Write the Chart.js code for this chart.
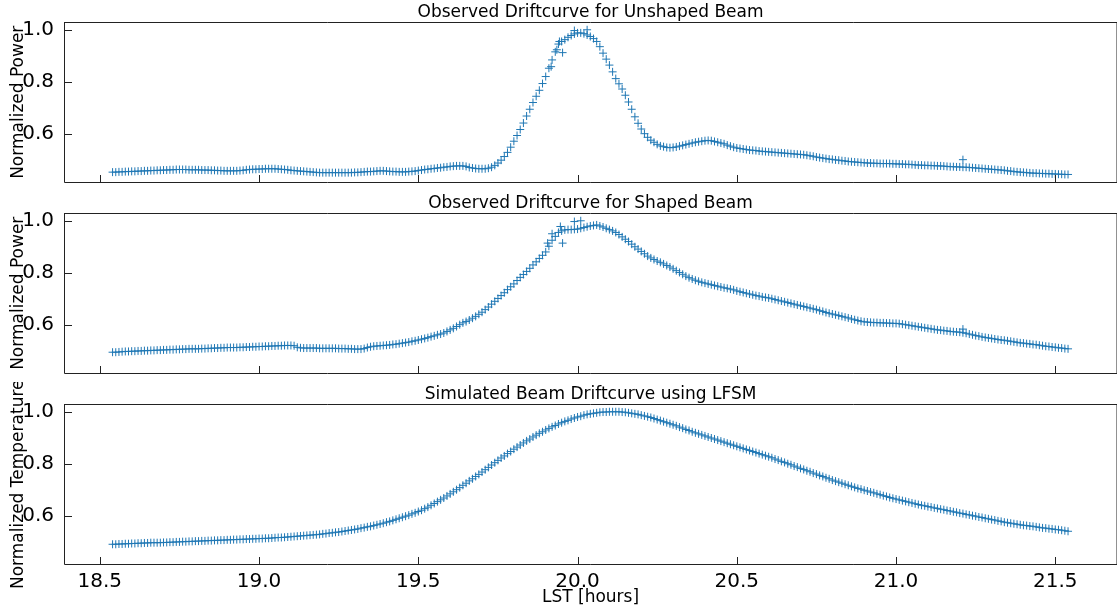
<!DOCTYPE html>
<html>
<head>
<meta charset="utf-8">
<script src="https://cdn.jsdelivr.net/npm/chart.js@4"></script>
<style>
  body { margin: 0; background: #fff; overflow: hidden; }
  #fig { position: relative; width: 1117px; height: 611px; overflow: hidden; background: #fff; }
  #fig canvas { position: absolute; left: 0; }
</style>
</head>
<body>
<div id="fig">
  <canvas id="unshaped" width="1122" height="191" style="top:0px"></canvas>
  <canvas id="shaped" width="1122" height="191" style="top:191px"></canvas>
  <canvas id="simulated" width="1122" height="229" style="top:382px"></canvas>
</div>
<script>
// LST [hours] shared by all three panels
const lst = [
  18.54, 18.55, 18.56, 18.57, 18.58, 18.59, 18.60, 18.61, 18.62, 18.63,
  18.64, 18.65, 18.66, 18.67, 18.68, 18.69, 18.70, 18.71, 18.72, 18.73,
  18.74, 18.75, 18.76, 18.77, 18.78, 18.79, 18.80, 18.81, 18.82, 18.83,
  18.84, 18.85, 18.86, 18.87, 18.88, 18.89, 18.90, 18.91, 18.92, 18.93,
  18.94, 18.95, 18.96, 18.97, 18.98, 18.99, 19.00, 19.01, 19.02, 19.03,
  19.04, 19.05, 19.06, 19.07, 19.08, 19.09, 19.10, 19.11, 19.12, 19.13,
  19.14, 19.15, 19.16, 19.17, 19.18, 19.19, 19.20, 19.21, 19.22, 19.23,
  19.24, 19.25, 19.26, 19.27, 19.28, 19.29, 19.30, 19.31, 19.32, 19.33,
  19.34, 19.35, 19.36, 19.37, 19.38, 19.39, 19.40, 19.41, 19.42, 19.43,
  19.44, 19.45, 19.46, 19.47, 19.48, 19.49, 19.50, 19.51, 19.52, 19.53,
  19.54, 19.55, 19.56, 19.57, 19.58, 19.59, 19.60, 19.61, 19.62, 19.63,
  19.64, 19.65, 19.66, 19.67, 19.68, 19.69, 19.70, 19.71, 19.72, 19.73,
  19.74, 19.75, 19.76, 19.77, 19.78, 19.79, 19.80, 19.81, 19.82, 19.83,
  19.84, 19.85, 19.86, 19.87, 19.88, 19.89, 19.90, 19.91, 19.92, 19.93,
  19.94, 19.95, 19.96, 19.97, 19.98, 19.99, 20.00, 20.01, 20.02, 20.03,
  20.04, 20.05, 20.06, 20.07, 20.08, 20.09, 20.10, 20.11, 20.12, 20.13,
  20.14, 20.15, 20.16, 20.17, 20.18, 20.19, 20.20, 20.21, 20.22, 20.23,
  20.24, 20.25, 20.26, 20.27, 20.28, 20.29, 20.30, 20.31, 20.32, 20.33,
  20.34, 20.35, 20.36, 20.37, 20.38, 20.39, 20.40, 20.41, 20.42, 20.43,
  20.44, 20.45, 20.46, 20.47, 20.48, 20.49, 20.50, 20.51, 20.52, 20.53,
  20.54, 20.55, 20.56, 20.57, 20.58, 20.59, 20.60, 20.61, 20.62, 20.63,
  20.64, 20.65, 20.66, 20.67, 20.68, 20.69, 20.70, 20.71, 20.72, 20.73,
  20.74, 20.75, 20.76, 20.77, 20.78, 20.79, 20.80, 20.81, 20.82, 20.83,
  20.84, 20.85, 20.86, 20.87, 20.88, 20.89, 20.90, 20.91, 20.92, 20.93,
  20.94, 20.95, 20.96, 20.97, 20.98, 20.99, 21.00, 21.01, 21.02, 21.03,
  21.04, 21.05, 21.06, 21.07, 21.08, 21.09, 21.10, 21.11, 21.12, 21.13,
  21.14, 21.15, 21.16, 21.17, 21.18, 21.19, 21.20, 21.21, 21.22, 21.23,
  21.24, 21.25, 21.26, 21.27, 21.28, 21.29, 21.30, 21.31, 21.32, 21.33,
  21.34, 21.35, 21.36, 21.37, 21.38, 21.39, 21.40, 21.41, 21.42, 21.43,
  21.44, 21.45, 21.46, 21.47, 21.48, 21.49, 21.50, 21.51, 21.52, 21.53,
  21.54
];

const unshapedPower = [
  0.452, 0.452, 0.453, 0.453, 0.454, 0.454, 0.455, 0.455, 0.456, 0.456,
  0.457, 0.457, 0.458, 0.458, 0.459, 0.459, 0.460, 0.460, 0.461, 0.461,
  0.462, 0.462, 0.462, 0.462, 0.461, 0.461, 0.461, 0.461, 0.460, 0.460,
  0.460, 0.459, 0.459, 0.458, 0.458, 0.457, 0.457, 0.457, 0.457, 0.457,
  0.458, 0.459, 0.461, 0.462, 0.463, 0.463, 0.464, 0.464, 0.465, 0.465,
  0.465, 0.465, 0.464, 0.463, 0.462, 0.461, 0.459, 0.458, 0.457, 0.456,
  0.455, 0.454, 0.453, 0.452, 0.451, 0.450, 0.450, 0.450, 0.450, 0.450,
  0.450, 0.450, 0.450, 0.450, 0.450, 0.450, 0.451, 0.451, 0.452, 0.453,
  0.454, 0.454, 0.455, 0.456, 0.457, 0.457, 0.456, 0.455, 0.454, 0.454,
  0.453, 0.453, 0.453, 0.454, 0.455, 0.456, 0.458, 0.460, 0.462, 0.463,
  0.465, 0.466, 0.468, 0.469, 0.471, 0.472, 0.474, 0.475, 0.476, 0.476,
  0.476, 0.474, 0.470, 0.468, 0.466, 0.465, 0.465, 0.465, 0.467, 0.471,
  0.478, 0.487, 0.498, 0.512, 0.528, 0.548, 0.571, 0.593, 0.616, 0.641,
  0.668, 0.694, 0.720, 0.744, 0.767, 0.793, 0.820, 0.852, 0.884, 0.915,
  0.945, 0.955, 0.962, 0.971, 0.978, 0.984, 0.988, 0.988, 0.985, 0.980,
  0.974, 0.966, 0.955, 0.935, 0.910, 0.887, 0.864, 0.838, 0.812, 0.792,
  0.772, 0.748, 0.722, 0.694, 0.665, 0.640, 0.618, 0.600, 0.586, 0.575,
  0.567, 0.559, 0.553, 0.550, 0.547, 0.546, 0.547, 0.549, 0.552, 0.555,
  0.558, 0.561, 0.564, 0.567, 0.569, 0.571, 0.573, 0.574, 0.573, 0.570,
  0.567, 0.564, 0.561, 0.556, 0.552, 0.548, 0.545, 0.543, 0.541, 0.539,
  0.537, 0.536, 0.535, 0.533, 0.532, 0.531, 0.530, 0.529, 0.528, 0.527,
  0.526, 0.525, 0.524, 0.523, 0.522, 0.521, 0.520, 0.519, 0.517, 0.515,
  0.513, 0.510, 0.508, 0.506, 0.504, 0.502, 0.501, 0.499, 0.498, 0.496,
  0.495, 0.493, 0.492, 0.491, 0.490, 0.489, 0.488, 0.487, 0.487, 0.486,
  0.486, 0.485, 0.485, 0.485, 0.485, 0.484, 0.484, 0.483, 0.483, 0.482,
  0.482, 0.481, 0.480, 0.479, 0.479, 0.478, 0.478, 0.477, 0.477, 0.476,
  0.476, 0.475, 0.474, 0.473, 0.473, 0.472, 0.472, 0.471, 0.471, 0.470,
  0.469, 0.468, 0.467, 0.466, 0.465, 0.464, 0.463, 0.462, 0.461, 0.460,
  0.459, 0.457, 0.456, 0.454, 0.453, 0.452, 0.451, 0.450, 0.449, 0.448,
  0.448, 0.447, 0.447, 0.446, 0.446, 0.445, 0.445, 0.444, 0.444, 0.443,
  0.443
];
// stray samples off the main track
const unshapedStrayLst = [19.917, 19.935, 19.943, 19.953, 19.99, 20.03, 21.21];
const unshapedStray = [0.858, 0.923, 0.955, 0.912, 0.997, 1.000, 0.500];

const shapedPower = [
  0.494, 0.494, 0.495, 0.496, 0.497, 0.497, 0.498, 0.498, 0.499, 0.499,
  0.500, 0.500, 0.501, 0.501, 0.502, 0.502, 0.503, 0.503, 0.504, 0.504,
  0.505, 0.505, 0.506, 0.506, 0.507, 0.507, 0.507, 0.507, 0.508, 0.508,
  0.509, 0.509, 0.510, 0.510, 0.511, 0.511, 0.512, 0.512, 0.512, 0.512,
  0.513, 0.513, 0.514, 0.514, 0.515, 0.515, 0.516, 0.516, 0.517, 0.517,
  0.518, 0.518, 0.519, 0.519, 0.520, 0.520, 0.520, 0.519, 0.513, 0.511,
  0.510, 0.510, 0.510, 0.510, 0.510, 0.509, 0.509, 0.509, 0.509, 0.509,
  0.509, 0.508, 0.508, 0.508, 0.507, 0.507, 0.506, 0.506, 0.506, 0.508,
  0.512, 0.515, 0.517, 0.518, 0.519, 0.520, 0.521, 0.522, 0.524, 0.525,
  0.527, 0.529, 0.531, 0.533, 0.536, 0.538, 0.541, 0.544, 0.547, 0.550,
  0.554, 0.557, 0.561, 0.564, 0.568, 0.574, 0.580, 0.586, 0.593, 0.600,
  0.607, 0.612, 0.618, 0.625, 0.632, 0.640, 0.648, 0.658, 0.668, 0.679,
  0.690, 0.701, 0.712, 0.723, 0.735, 0.746, 0.757, 0.770, 0.782, 0.793,
  0.805, 0.817, 0.830, 0.842, 0.855, 0.867, 0.880, 0.902, 0.925, 0.940,
  0.955, 0.961, 0.965, 0.966, 0.966, 0.967, 0.968, 0.971, 0.974, 0.977,
  0.980, 0.982, 0.984, 0.980, 0.976, 0.971, 0.966, 0.961, 0.955, 0.947,
  0.938, 0.929, 0.920, 0.910, 0.900, 0.891, 0.882, 0.873, 0.864, 0.857,
  0.851, 0.845, 0.840, 0.834, 0.828, 0.822, 0.815, 0.808, 0.801, 0.794,
  0.787, 0.781, 0.776, 0.771, 0.767, 0.763, 0.760, 0.757, 0.754, 0.751,
  0.748, 0.745, 0.742, 0.740, 0.737, 0.734, 0.730, 0.727, 0.724, 0.721,
  0.718, 0.715, 0.712, 0.710, 0.707, 0.705, 0.703, 0.700, 0.697, 0.694,
  0.691, 0.688, 0.685, 0.682, 0.679, 0.676, 0.673, 0.670, 0.667, 0.664,
  0.661, 0.658, 0.654, 0.651, 0.647, 0.644, 0.641, 0.638, 0.635, 0.632,
  0.629, 0.626, 0.622, 0.619, 0.616, 0.613, 0.611, 0.610, 0.609, 0.608,
  0.608, 0.607, 0.607, 0.606, 0.606, 0.605, 0.605, 0.604, 0.602, 0.600,
  0.598, 0.596, 0.594, 0.592, 0.590, 0.588, 0.586, 0.584, 0.582, 0.580,
  0.579, 0.577, 0.576, 0.574, 0.573, 0.572, 0.571, 0.569, 0.567, 0.564,
  0.561, 0.558, 0.556, 0.553, 0.551, 0.549, 0.547, 0.545, 0.543, 0.541,
  0.540, 0.538, 0.536, 0.534, 0.532, 0.530, 0.529, 0.527, 0.526, 0.524,
  0.523, 0.521, 0.519, 0.517, 0.516, 0.514, 0.513, 0.511, 0.510, 0.508,
  0.507
];
const shapedStrayLst = [19.906, 19.92, 19.946, 19.953, 19.99, 20.01, 21.21];
const shapedStray = [0.914, 0.950, 0.978, 0.914, 0.997, 1.000, 0.583];

const simulatedTemp = [
  0.490, 0.490, 0.491, 0.491, 0.492, 0.492, 0.493, 0.493, 0.494, 0.494,
  0.495, 0.495, 0.496, 0.496, 0.496, 0.496, 0.497, 0.497, 0.498, 0.498,
  0.499, 0.499, 0.500, 0.500, 0.501, 0.501, 0.502, 0.502, 0.503, 0.503,
  0.504, 0.504, 0.505, 0.505, 0.506, 0.506, 0.507, 0.507, 0.508, 0.508,
  0.509, 0.509, 0.510, 0.510, 0.511, 0.511, 0.512, 0.512, 0.513, 0.513,
  0.514, 0.515, 0.516, 0.516, 0.517, 0.518, 0.519, 0.520, 0.521, 0.522,
  0.523, 0.524, 0.525, 0.526, 0.527, 0.528, 0.530, 0.531, 0.533, 0.534,
  0.536, 0.537, 0.539, 0.541, 0.543, 0.545, 0.547, 0.549, 0.552, 0.554,
  0.557, 0.559, 0.562, 0.565, 0.568, 0.571, 0.575, 0.578, 0.582, 0.586,
  0.590, 0.594, 0.598, 0.602, 0.607, 0.611, 0.616, 0.621, 0.627, 0.633,
  0.640, 0.647, 0.654, 0.661, 0.668, 0.676, 0.684, 0.692, 0.700, 0.708,
  0.717, 0.725, 0.734, 0.742, 0.751, 0.759, 0.768, 0.777, 0.786, 0.795,
  0.804, 0.813, 0.822, 0.830, 0.839, 0.847, 0.856, 0.864, 0.872, 0.880,
  0.888, 0.895, 0.903, 0.910, 0.917, 0.923, 0.930, 0.936, 0.942, 0.947,
  0.953, 0.958, 0.963, 0.967, 0.972, 0.976, 0.980, 0.983, 0.987, 0.990,
  0.992, 0.994, 0.996, 0.998, 0.999, 0.999, 1.000, 1.000, 1.000, 1.000,
  0.999, 0.998, 0.996, 0.994, 0.992, 0.990, 0.987, 0.984, 0.981, 0.978,
  0.974, 0.970, 0.966, 0.962, 0.958, 0.954, 0.950, 0.946, 0.941, 0.937,
  0.932, 0.928, 0.923, 0.919, 0.915, 0.911, 0.907, 0.903, 0.899, 0.895,
  0.891, 0.887, 0.883, 0.879, 0.875, 0.871, 0.867, 0.863, 0.859, 0.855,
  0.851, 0.847, 0.843, 0.839, 0.835, 0.831, 0.827, 0.823, 0.818, 0.814,
  0.809, 0.805, 0.800, 0.796, 0.791, 0.787, 0.782, 0.778, 0.773, 0.769,
  0.764, 0.760, 0.755, 0.751, 0.746, 0.742, 0.737, 0.733, 0.729, 0.725,
  0.721, 0.717, 0.713, 0.709, 0.705, 0.702, 0.698, 0.695, 0.691, 0.688,
  0.684, 0.681, 0.677, 0.674, 0.670, 0.667, 0.664, 0.661, 0.658, 0.655,
  0.652, 0.649, 0.646, 0.643, 0.640, 0.638, 0.635, 0.633, 0.630, 0.628,
  0.625, 0.623, 0.620, 0.618, 0.615, 0.613, 0.610, 0.608, 0.605, 0.603,
  0.600, 0.598, 0.595, 0.593, 0.590, 0.588, 0.585, 0.583, 0.580, 0.578,
  0.575, 0.573, 0.571, 0.569, 0.567, 0.565, 0.563, 0.562, 0.560, 0.559,
  0.557, 0.555, 0.553, 0.552, 0.550, 0.549, 0.547, 0.546, 0.544, 0.542,
  0.540
];

const FONT = 'DejaVu Sans';
const BLUE = '#1f77b4';

// matplotlib-like frame with inward ticks
const axesFrame = {
  id: 'axesFrame',
  afterDatasetsDraw(chart) {
    const { ctx, chartArea: a, scales: { x, y } } = chart;
    ctx.save();
    ctx.strokeStyle = '#222';
    ctx.lineWidth = 1;
    ctx.beginPath();
    ctx.moveTo(a.left + 0.5, a.top);
    ctx.lineTo(a.left + 0.5, a.bottom + 0.5);
    ctx.lineTo(a.right, a.bottom + 0.5);
    ctx.moveTo(a.left, a.top);
    ctx.lineTo(a.right, a.top);
    ctx.lineTo(a.right, a.bottom);
    x.ticks.forEach(t => {
      const px = Math.round(x.getPixelForValue(t.value)) + 0.5;
      ctx.moveTo(px, a.bottom);
      ctx.lineTo(px, a.bottom - 7);
    });
    y.ticks.forEach(t => {
      const py = Math.round(y.getPixelForValue(t.value)) + 0.5;
      ctx.moveTo(a.left, py);
      ctx.lineTo(a.left + 8, py);
    });
    ctx.stroke();
    ctx.restore();
  }
};

function toPoints(xs, ys) {
  return xs.map((t, i) => ({ x: t, y: ys[i] }));
}

function makePanel(id, title, yTitle, points, bottomPanel) {
  return new Chart(document.getElementById(id), {
    type: 'scatter',
    data: {
      datasets: [{
        data: points,
        pointStyle: 'cross',
        pointRadius: 4,
        pointBorderWidth: 1,
        borderColor: BLUE,
        backgroundColor: BLUE
      }]
    },
    options: {
      responsive: false,
      animation: false,
      events: [],
      layout: { padding: 0 },
      plugins: {
        legend: { display: false },
        tooltip: { enabled: false },
        title: {
          display: true,
          text: title,
          fullSize: false,
          color: '#000',
          font: { family: FONT, size: 17, weight: 'normal' },
          padding: { top: 2.1, bottom: 0 }
        }
      },
      scales: {
        x: {
          type: 'linear',
          min: 18.3875,
          max: 21.69375,
          grid: { display: false },
          border: { display: false },
          ticks: {
            display: bottomPanel,
            stepSize: 0.5,
            includeBounds: false,
            autoSkip: false,
            maxRotation: 0,
            padding: -2,
            color: '#000',
            font: { family: FONT, size: 20 },
            callback: v => v.toFixed(1)
          },
          title: {
            display: bottomPanel,
            text: 'LST [hours]',
            color: '#000',
            font: { family: FONT, size: 17 },
            padding: { top: 0, bottom: 3.5 }
          },
          afterFit: s => {
            s.height = bottomPanel ? 47 : 9;
            s.paddingLeft = 0;
            s.paddingRight = 0;
          }
        },
        y: {
          min: 0.414,
          max: 1.028,
          grid: { display: false },
          border: { display: false },
          ticks: {
            stepSize: 0.2,
            includeBounds: false,
            padding: 2,
            color: '#000',
            font: { family: FONT, size: 20 },
            callback: v => v.toFixed(1)
          },
          title: {
            display: true,
            text: yTitle,
            color: '#000',
            font: { family: FONT, size: 17 },
            padding: { top: 8, bottom: 0 }
          },
          afterFit: s => {
            s.width = 64;
            s.paddingTop = 0;
            s.paddingBottom = 0;
          }
        }
      }
    },
    plugins: [axesFrame]
  });
}

makePanel('unshaped', 'Observed Driftcurve for Unshaped Beam', 'Normalized Power',
  toPoints(lst, unshapedPower).concat(toPoints(unshapedStrayLst, unshapedStray)), false);
makePanel('shaped', 'Observed Driftcurve for Shaped Beam', 'Normalized Power',
  toPoints(lst, shapedPower).concat(toPoints(shapedStrayLst, shapedStray)), false);
makePanel('simulated', 'Simulated Beam Driftcurve using LFSM', 'Normalized Temperature',
  toPoints(lst, simulatedTemp), true);
</script>
</body>
</html>
